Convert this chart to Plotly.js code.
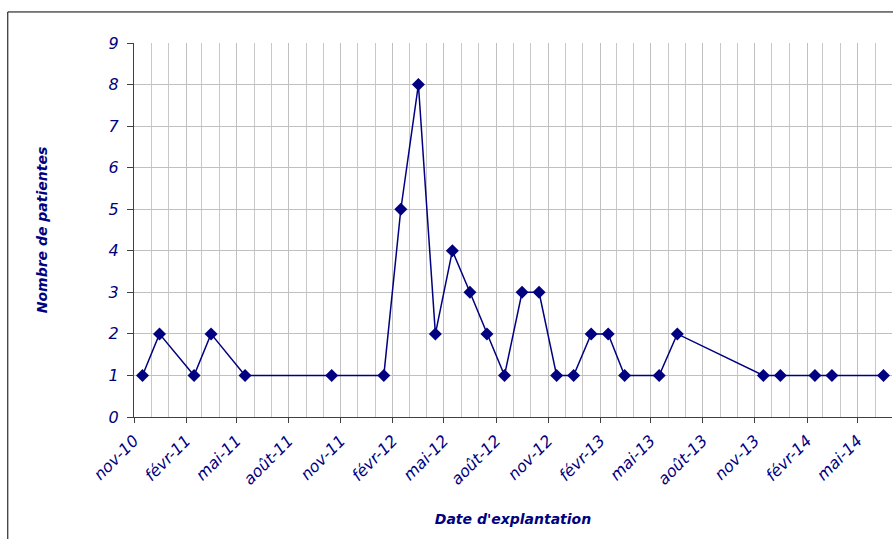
<!DOCTYPE html>
<html>
<head>
<meta charset="utf-8">
<script src="https://cdn.plot.ly/plotly-3.0.1.min.js"></script>
<style>html,body{margin:0;padding:0;background:#fff;}#chart{width:893px;height:539px;}</style>
</head>
<body>
<div id="chart"></div>
<script>
const dates = ["2010-11-16","2010-12-16","2011-02-15","2011-03-17","2011-05-16","2011-10-16","2012-01-16","2012-02-15","2012-03-17","2012-04-16","2012-05-16","2012-06-16","2012-07-16","2012-08-16","2012-09-16","2012-10-16","2012-11-16","2012-12-16","2013-01-16","2013-02-15","2013-03-16","2013-05-16","2013-06-17","2013-11-16","2013-12-16","2014-02-15","2014-03-17","2014-06-16"];
const patients = [1,2,1,2,1,1,1,5,8,2,4,3,2,1,3,3,1,1,2,2,1,1,2,1,1,1,1,1];
const tickDates = ["2010-11-01","2011-02-01","2011-05-01","2011-08-01","2011-11-01","2012-02-01","2012-05-01","2012-08-01","2012-11-01","2013-02-01","2013-05-01","2013-08-01","2013-11-01","2014-02-01","2014-05-01"];
const tickLabels = ["nov-10","févr-11","mai-11","août-11","nov-11","févr-12","mai-12","août-12","nov-12","févr-13","mai-13","août-13","nov-13","févr-14","mai-14"];
const yTicks = [0,1,2,3,4,5,6,7,8,9];

const navy = "#000080";
const tickFont = {family: "DejaVu Sans", size: 16, color: navy, style: "italic"};
const titleFont = {family: "DejaVu Sans", size: 14, color: navy, weight: "bold", style: "italic"};

Plotly.newPlot("chart", [{
  x: dates, y: patients, type: "scatter", mode: "lines+markers",
  line: {color: navy, width: 1.5},
  marker: {symbol: "diamond", size: 10, color: navy},
  hoverinfo: "x+y"
}], {
  width: 893, height: 539,
  margin: {l: 134, r: 1, t: 43, b: 122},
  paper_bgcolor: "#ffffff", plot_bgcolor: "#ffffff",
  showlegend: false,
  xaxis: {
    type: "date", range: ["2010-11-01", "2014-07-01"],
    tickmode: "array", tickvals: tickDates, ticktext: tickLabels,
    tickangle: -45, tickfont: tickFont,
    ticks: "outside", ticklen: 5, tickcolor: "#404040",
    ticklabelstandoff: 2,
    showline: true, linecolor: "#404040", linewidth: 1,
    showgrid: true, gridcolor: "#c0c0c0", gridwidth: 1,
    minor: {dtick: "M1", tick0: "2010-11-01", showgrid: true, gridcolor: "#c8c8c8", gridwidth: 1},
    zeroline: false,
    title: {text: "Date d'explantation", font: titleFont, standoff: 26}
  },
  yaxis: {
    range: [0, 9], tickmode: "array", tickvals: yTicks,
    tickfont: tickFont,
    ticks: "outside", ticklen: 6, tickcolor: "#404040",
    ticklabelstandoff: 5,
    showline: true, linecolor: "#404040", linewidth: 1,
    showgrid: true, gridcolor: "#c0c0c0", gridwidth: 1,
    zeroline: false,
    title: {text: "Nombre de patientes", font: titleFont, standoff: 57}
  },
  shapes: [{
    type: "rect", xref: "paper", yref: "paper",
    x0: -0.1665, x1: 1.1, y0: -0.6, y1: 1.083,
    line: {color: "#000000", width: 1}, fillcolor: "rgba(0,0,0,0)", layer: "above"
  }]
}, {displayModeBar: false, staticPlot: true});
</script>
</body>
</html>
